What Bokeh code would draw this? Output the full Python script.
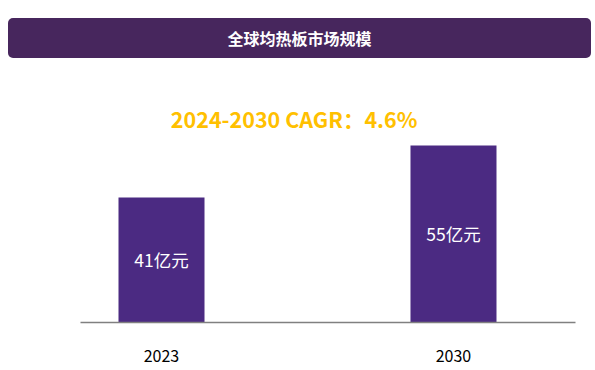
from bokeh.plotting import figure
from bokeh.models import Div, Label, FixedTicker, Range1d, ColumnDataSource
from bokeh.layouts import column
from bokeh.embed import file_html
from bokeh.resources import INLINE
from bokeh.core.properties import value

# ---- data ----
title_text = "全球均热板市场规模"
cagr_text = "2024-2030 CAGR：4.6%"
years = [2023, 2030]
year_labels = ["2023", "2030"]
market_size = [41, 55]
unit = "亿元"

FONT = "Noto Sans CJK SC"
BAR_COLOR = "#4B2A82"
HEADER_COLOR = "#47265D"

y_start = 7.34
y_end = 78.42

header = Div(
    text=title_text,
    width=583,
    height=40,
    margin=(18, 0, 0, 8),
    styles={
        "background-color": HEADER_COLOR,
        "color": "white",
        "font-weight": "bold",
        "font-size": "16px",
        "font-family": FONT,
        "text-align": "center",
        "line-height": "40px",
        "border-radius": "5px",
    },
)

p = figure(
    width=595,
    height=312,
    output_backend="svg",
    toolbar_location=None,
    x_range=Range1d(2021.058, 2032.925),
    y_range=Range1d(y_start, y_end),
    y_axis_location=None,
    min_border_left=80,
    min_border_right=20,
    min_border_top=0,
    min_border_bottom=48,
)
p.outline_line_color = None
p.grid.visible = False
p.background_fill_color = "white"
p.border_fill_color = "white"

src = ColumnDataSource(dict(
    x=years,
    top=market_size,
    mid=[(v + y_start) / 2 for v in market_size],
    label=[f"{v}{unit}" for v in market_size],
))

p.vbar(x="x", top="top", bottom=0, width=2.062, source=src,
       fill_color=BAR_COLOR, line_color=None)

p.text(x="x", y="mid", text="label", source=src,
       text_color="white", text_font=value(FONT), text_font_size="17.5px",
       text_align="center", text_baseline="middle")

p.add_layout(Label(x=2026.18, y=62.3, text=cagr_text,
                   text_color="#FFC000", text_font=FONT, text_font_size="21.5px",
                   text_font_style="bold", text_align="center",
                   text_baseline="middle"))

xa = p.xaxis[0]
xa.ticker = FixedTicker(ticks=years)
xa.major_label_overrides = {y: l for y, l in zip(years, year_labels)}
xa.axis_line_color = "#808080"
xa.axis_line_width = 1.5
xa.major_tick_line_color = None
xa.minor_tick_line_color = None
xa.major_tick_in = 0
xa.major_tick_out = 0
xa.major_label_standoff = 27
xa.major_label_text_font = FONT
xa.major_label_text_font_size = "16px"
xa.major_label_text_color = "black"

layout = column(header, p, spacing=0)

open("out.html", "w").write(file_html(layout, INLINE))
